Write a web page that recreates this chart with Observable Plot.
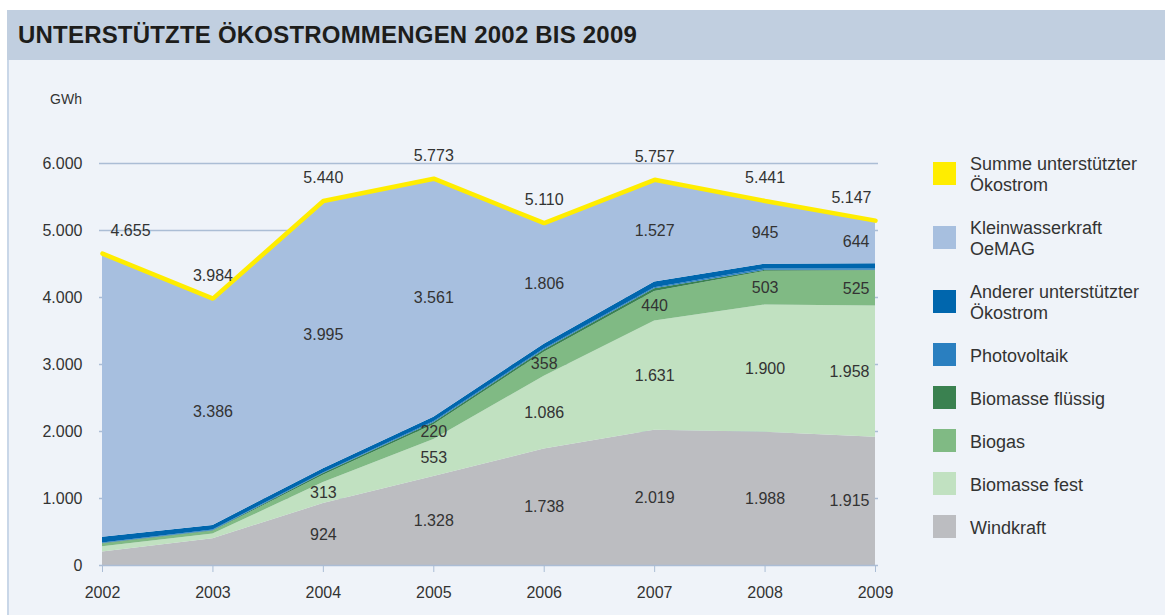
<!DOCTYPE html>
<html>
<head>
<meta charset="utf-8">
<script src="https://cdn.jsdelivr.net/npm/d3@7"></script>
<script src="https://cdn.jsdelivr.net/npm/@observablehq/plot@0.6"></script>
<style>
  html, body { margin: 0; padding: 0; background: #ffffff; }
  body { width: 1165px; height: 615px; position: relative; overflow: hidden;
         font-family: "Liberation Sans", Arial, sans-serif; color: #333333; }
  #band { position: absolute; left: 7px; top: 10px; width: 1158px; height: 50px; background: #c1cfe0; }
  #title { position: absolute; left: 18px; top: 10px; height: 50px; line-height: 50px;
           font-size: 24px; font-weight: bold; letter-spacing: 0.2px; color: #1d1d1b; white-space: nowrap; }
  #panel { position: absolute; left: 7px; top: 60px; width: 1158px; height: 555px; background: #eff3f9;
           border-left: 2px solid #c9d7e8; box-sizing: border-box; }
  #unit { position: absolute; left: 30px; width: 52px; top: 91px; line-height: 16px; font-size: 14px;
          text-align: right; color: #333333; }
  #chart { position: absolute; left: 0; top: 60px; }
  #legend { position: absolute; left: 933px; top: 154px; }
  .item { display: flex; align-items: center; margin-bottom: 22px; }
  .sw { width: 23px; height: 23px; flex: none; position: relative; top: -2px; margin: -1px 0; }
  .lab { margin-left: 14px; font-size: 18px; line-height: 21px; color: #333333; white-space: nowrap; }
</style>
</head>
<body>
<div id="band"></div>
<div id="title">UNTERSTÜTZTE ÖKOSTROMMENGEN 2002 BIS 2009</div>
<div id="panel"></div>
<div id="unit">GWh</div>
<div id="chart"></div>
<div id="legend"></div>
<script>
// ---- data (GWh) ----
const years = [2002, 2003, 2004, 2005, 2006, 2007, 2008, 2009];
const windkraft        = [200, 400, 924, 1328, 1738, 2019, 1988, 1915];
const biomasseFest     = [80, 70, 313, 553, 1086, 1631, 1900, 1958];
const biogas           = [40, 40, 110, 220, 358, 440, 503, 525];
const biomasseFluessig = [10, 10, 25, 30, 35, 40, 15, 10];
const photovoltaik     = [5, 8, 10, 13, 15, 15, 20, 20];
const andererOekostrom = [85, 70, 63, 68, 72, 85, 70, 75];
const kleinwasserkraft = [4235, 3386, 3995, 3561, 1806, 1527, 945, 644];
const summe            = [4655, 3984, 5440, 5773, 5110, 5757, 5441, 5147];
const seriesNames = ["Windkraft", "Biomasse fest", "Biogas", "Biomasse flüssig", "Photovoltaik",
                     "Anderer unterstützter Ökostrom", "Kleinwasserkraft OeMAG"];
const totalName = "Summe unterstützter Ökostrom";
const yTicks = [0, 1000, 2000, 3000, 4000, 5000, 6000];

// ---- styling / config ----
const seriesValues = [windkraft, biomasseFest, biogas, biomasseFluessig, photovoltaik, andererOekostrom, kleinwasserkraft];
const seriesColors = ["#bcbdc1", "#c1e1c1", "#80ba84", "#3a8150", "#2a7fc0", "#0066ad", "#a7bfdf"];
const totalColor = "#ffed00";
const firstLabelYear = {"Windkraft": 2004, "Biomasse fest": 2004, "Biogas": 2005, "Kleinwasserkraft OeMAG": 2003};

const fmt = d3.formatLocale({decimal: ",", thousands: ".", grouping: [3], currency: ["", " €"]}).format(",d");

const long = years.flatMap((year, i) => seriesNames.map((s, k) => ({year, series: s, value: seriesValues[k][i]})));
const totals = years.map((year, i) => ({year, value: summe[i]}));
const showLabel = d => firstLabelYear[d.series] !== undefined && d.year >= firstLabelYear[d.series];

const textColor = "#333333";
const gridColor = "#abbdd5";

function stackLabels(yearFilter, anchor, dx) {
  return Plot.text(long.filter(d => yearFilter(d.year)), Plot.stackY({
    x: "year", y: "value", z: "series", order: seriesNames,
    text: d => showLabel(d) ? fmt(d.value) : "",
    textAnchor: anchor, dx, fill: textColor, fontSize: 16
  }));
}
function totalLabels(yearFilter, anchor, dx) {
  return Plot.text(totals.filter(d => yearFilter(d.year)), {
    x: "year", y: "value", text: d => fmt(d.value),
    textAnchor: anchor, dx, dy: -23, fill: textColor, fontSize: 16
  });
}

const first = years[0], last = years[years.length - 1];

const chart = Plot.plot({
  width: 900,
  height: 555,
  marginLeft: 102,
  marginRight: 25,
  marginTop: 103,
  marginBottom: 50,
  style: {fontFamily: "Liberation Sans, Arial, sans-serif", fontSize: "16px", background: "transparent", color: textColor},
  x: {domain: [first, last]},
  y: {domain: [0, 6000]},
  color: {domain: seriesNames, range: seriesColors},
  marks: [
    Plot.ruleY(yTicks.filter(v => v > 0), {stroke: gridColor, strokeWidth: 1.5, insetLeft: -3, insetRight: -3}),
    Plot.areaY(long, {x: "year", y: "value", z: "series", fill: "series", order: seriesNames}),
    Plot.ruleY([0], {stroke: gridColor, strokeWidth: 1.5, insetLeft: -3, insetRight: -3}),
    Plot.lineY(totals, {x: "year", y: "value", stroke: totalColor, strokeWidth: 4.5, strokeLinejoin: "miter"}),
    Plot.axisY({ticks: yTicks, tickFormat: fmt, tickSize: 0, tickPadding: 20, label: null, fill: textColor, fontSize: 16}),
    Plot.axisX({ticks: years, tickFormat: d => String(d), tickSize: 7, tickPadding: 14, label: null,
                stroke: gridColor, fill: textColor, fontSize: 16}),
    stackLabels(y => y > first && y < last, "middle", 0),
    stackLabels(y => y === first, "start", 8),
    stackLabels(y => y === last, "end", -6),
    totalLabels(y => y > first && y < last, "middle", 0),
    totalLabels(y => y === first, "start", 8),
    totalLabels(y => y === last, "end", -4)
  ]
});
document.getElementById("chart").appendChild(chart);

// ---- legend (HTML) ----
const legendItems = [{name: totalName, color: totalColor}]
  .concat(seriesNames.map((s, k) => ({name: s, color: seriesColors[k]})).reverse());
const legendLines = {
  "Summe unterstützter Ökostrom": ["Summe unterstützter", "Ökostrom"],
  "Kleinwasserkraft OeMAG": ["Kleinwasserkraft", "OeMAG"],
  "Anderer unterstützter Ökostrom": ["Anderer unterstützter", "Ökostrom"]
};
const legend = document.getElementById("legend");
for (const it of legendItems) {
  const row = document.createElement("div");
  row.className = "item";
  const sw = document.createElement("div");
  sw.className = "sw";
  sw.style.background = it.color;
  const lab = document.createElement("div");
  lab.className = "lab";
  lab.innerHTML = (legendLines[it.name] || [it.name]).join("<br>");
  row.appendChild(sw);
  row.appendChild(lab);
  legend.appendChild(row);
}
</script>
</body>
</html>
